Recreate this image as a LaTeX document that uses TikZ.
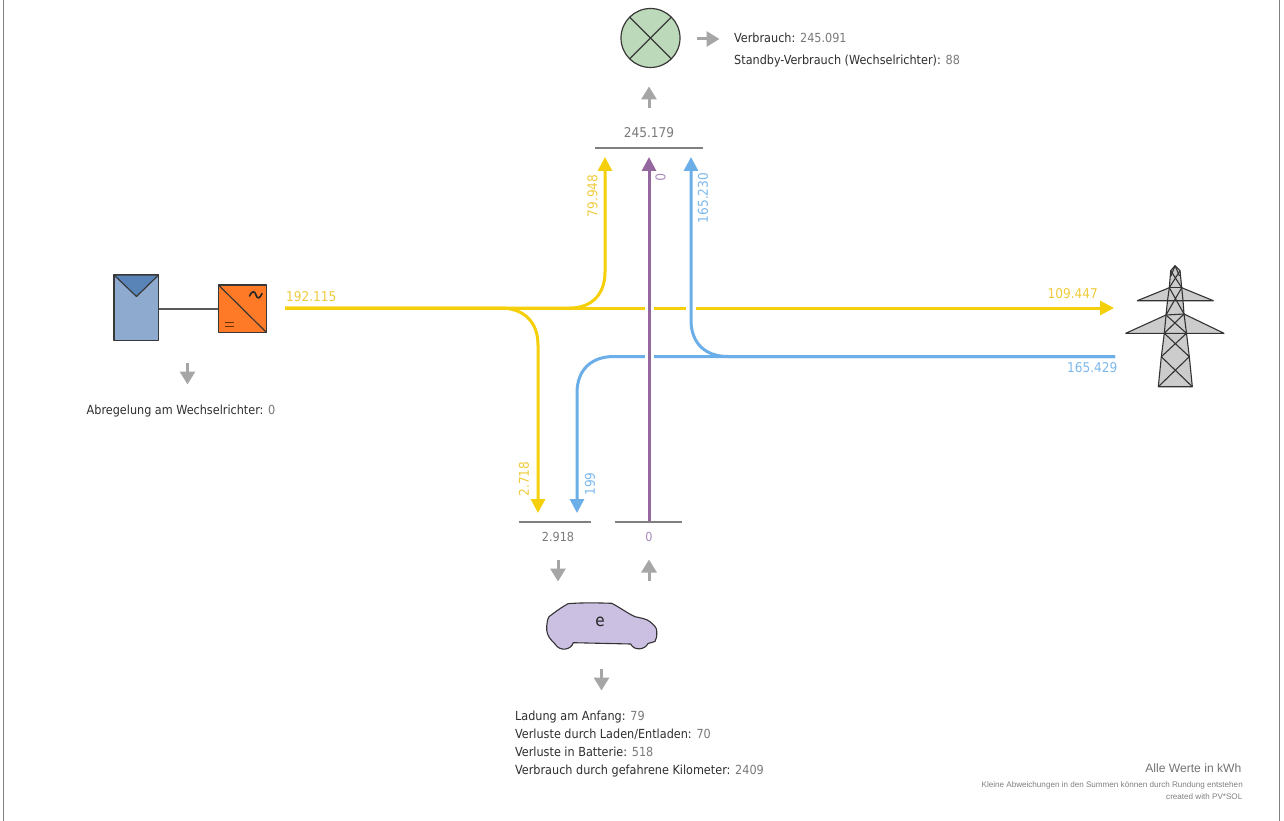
\documentclass[tikz,border=0pt]{standalone}
\usepackage{fontspec}
\setmainfont{DejaVu Sans Condensed}
\newfontfamily\arialfont{Liberation Sans}
\usetikzlibrary{arrows.meta}
\definecolor{sunY}{HTML}{F5CF0A}
\definecolor{sunT}{HTML}{F0CB3C}
\definecolor{gridB}{HTML}{6BAEE8}
\definecolor{gridT}{HTML}{7CB8EC}
\definecolor{carP}{HTML}{94689E}
\definecolor{carT}{HTML}{A98BBD}
\definecolor{flowG}{HTML}{A6A6A6}
\definecolor{txtD}{HTML}{2F2F2F}
\definecolor{txtG}{HTML}{7A7A7A}
\tikzset{
  x=1pt,y=-1pt,
  yflow/.style={draw=sunY,line width=3pt},
  bflow/.style={draw=gridB,line width=3pt},
  pflow/.style={draw=carP,line width=3pt},
  tipa/.style={-{Triangle[length=14pt,width=14pt]}},
  grayarrow/.style={draw=flowG,line width=3pt,-{Triangle[length=13pt,width=15pt]},shorten >=-0.5pt},
  sumbar/.style={draw=gray,line width=1.4pt},
  lab/.style={font=\fontsize{13.5}{16}\selectfont,inner sep=0pt},
  info/.style={font=\fontsize{12.5}{19.5}\selectfont,inner sep=0pt,anchor=base west,text=txtD},
  outl/.style={draw=black!78,line width=1.2pt,line join=round},
}
\newcommand{\gv}[1]{\textcolor{txtG}{#1}}
\begin{document}
\begin{tikzpicture}
\useasboundingbox (0,0) rectangle (1284,821);
\fill[white] (0,0) rectangle (1284,821);
% page border
\coordinate (bl1) at (3.5,0); \coordinate (bl2) at (3.5,821);
\coordinate (br1) at (1279.5,0); \coordinate (br2) at (1279.5,821);
\draw[gray,line width=1pt] (bl1)--(bl2) (br1)--(br2);

% anchors
\coordinate (ysrc) at (285,308);
\coordinate (yend) at (1114,308);
\coordinate (ytop) at (605,157);
\coordinate (ybot) at (538,513);
\coordinate (bsrc) at (1115,356.5);
\coordinate (btop) at (691,157);
\coordinate (bbot) at (577,513);
\coordinate (psrc) at (649,522);
\coordinate (ptop) at (649,157);

% yellow flows
\draw[yflow,tipa] (ysrc)--(yend);
\draw[yflow,tipa] (ysrc)-- (570,308) .. controls (592,308) and (605,294) .. (605,272) -- (ytop);
\draw[yflow,tipa] (ysrc)-- (500,308) .. controls (524,308) and (538,322) .. (538,345) -- (ybot);
% blue flows
\draw[bflow,tipa] (bsrc)-- (614,356.5) .. controls (591,356.5) and (577,370) .. (577,393) -- (bbot);
\draw[draw=white,line width=5pt] (686,308)--(696,308);
\draw[bflow,tipa] (bsrc)-- (728,356.5) .. controls (705,356.5) and (691,343) .. (691,320) -- (btop);
% purple flow
\draw[draw=white,line width=5pt] (644.5,308)--(653.5,308) (644.5,356.5)--(653.5,356.5);
\draw[pflow,tipa] (psrc)--(ptop);

% sum bars
\draw[sumbar] (595,148)--(703,148);
\draw[sumbar] (519,522)--(591,522);
\draw[sumbar] (615,522)--(682,522);
\node[lab,text=txtG] (sumT) at (649,133) {245.179};
\node[lab,text=txtG,font=\fontsize{12.5}{15}\selectfont] (sumC) at (558,536.5) {2.918};
\node[lab,text=carT,font=\fontsize{12.5}{15}\selectfont] (sumP) at (649,536.5) {0};

% flow labels
\node[lab,text=sunT,anchor=west] (l1) at (286,297) {192.115};
\node[lab,text=sunT,anchor=east] (l2) at (1098,294) {109.447};
\node[lab,text=gridT,anchor=east] (l3) at (1117.5,368) {165.429};
\node[lab,text=sunT,rotate=90] (l4) at (592.5,196) {79.948};
\node[lab,text=carT,rotate=-90] (l5) at (660.5,177) {0};
\node[lab,text=gridT,rotate=90] (l6) at (703,198) {165.230};
\node[lab,text=sunT,rotate=90] (l7) at (524,479) {2.718};
\node[lab,text=gridT,rotate=90] (l8) at (590,484) {199};

% lamp
\coordinate (lampC) at (650.5,38);
\draw[outl,fill={rgb,255:red,188;green,217;blue,185}] (lampC) circle (29.5);
\draw[outl] (lampC)++(-20.9,-20.9) -- ++(41.8,41.8);
\draw[outl] (lampC)++(20.9,-20.9) -- ++(-41.8,41.8);

% PV panel
\draw[outl,fill={rgb,255:red,142;green,170;blue,207}] (114,275) rectangle (158.5,340.5);
\draw[outl,fill={rgb,255:red,88;green,132;blue,184}] (114,275) -- (136.5,296.5) -- (158.5,275) -- cycle;
% inverter
\coordinate (panelE) at (158.5,309);
\coordinate (invW) at (218.5,309);
\draw[draw=black!65,line width=1.4pt] (panelE)--(invW);
\draw[outl,fill={rgb,255:red,255;green,122;blue,38}] (218.5,285) rectangle (266.5,332.5);
\draw[outl] (218.5,285)--(266.5,332.5);
\draw[line width=1.6pt,draw=black!85,line cap=round] (249.5,296) .. controls (252,290) and (255,291) .. (256,295) .. controls (257,299) and (260,299) .. (262,293.5);
\draw[line width=1.2pt,draw=black!60!orange] (225,322.7)--(234,322.7) (225,326.3)--(234,326.3);

% tower
\begin{scope}[draw=black!80,line width=1.1pt,line join=round]
\fill[black!20] (1175,265.7)--(1180,270.7)--(1181.7,287.7)--(1213.3,300.7)--(1183,300.7)--(1184,314)--(1224,333.3)--(1186.5,333.3)--(1192.3,386.7)--(1158.3,386.7)--(1164.3,333.3)--(1125.7,333.3)--(1166,315)--(1167.5,300.7)--(1137.3,300.7)--(1169.3,287.7)--(1170.7,270.7)--cycle;
\draw (1175,265.7)--(1180,270.7)--(1181.7,287.7)--(1183,300.7)--(1184,314)--(1186.5,333.3)--(1189.3,356.7)--(1192.3,386.7)--(1158.3,386.7)--(1161.3,356.7)--(1164.3,333.3)--(1166,315)--(1167.5,300.7)--(1169.3,287.7)--(1170.7,270.7)--cycle;
\draw (1169.3,287.7)--(1137.3,300.7)--(1213.3,300.7)--(1181.7,287.7);
\draw (1166,315)--(1125.7,333.3)--(1224,333.3)--(1184,314);
\draw (1166,315)--(1184,314);
\draw (1169.3,287.7)--(1181.7,287.7);
\draw (1170.7,270.7)--(1181.7,287.7) (1180,270.7)--(1169.3,287.7);
\draw (1175,265.7)--(1171,276) (1175,265.7)--(1179.5,276);
\draw (1169.3,287.7)--(1184,314) (1181.7,287.7)--(1166,315);
\draw (1166,315)--(1186.5,333.3) (1184,314)--(1164.3,333.3);
\draw (1164.3,333.3)--(1189.3,356.7) (1186.5,333.3)--(1161.3,356.7);
\draw (1161.3,356.7)--(1192.3,386.7) (1189.3,356.7)--(1158.3,386.7);
\end{scope}

% car
\draw[fill={rgb,255:red,203;green,191;blue,226},draw=black!80,line width=1.1pt,line join=round]
 (546.7,630) .. controls (546.5,624) and (547.5,619) .. (549,616.7)
 .. controls (555,612) and (562,607) .. (568,603.7)
 .. controls (582,602.5) and (598,602.8) .. (611.7,603.3)
 .. controls (620,607.5) and (627,613) .. (635,616.7)
 .. controls (641,618) and (647,619) .. (650,621.7)
 .. controls (654,625) and (657,628) .. (656.7,631)
 .. controls (657,636) and (656.5,639) .. (655,641.5)
 -- (648,643.5)
 .. controls (645,650) and (634,651) .. (630.7,644)
 -- (573.3,642.7)
 .. controls (571,650) and (560,652) .. (555,644)
 .. controls (551,640) and (547,636) .. (546.7,630) -- cycle;
\node[lab,text=black!85,font=\fontsize{17}{18}\selectfont] (carE) at (600,622) {e};

% gray arrows
\coordinate (a1s) at (187.5,363); \coordinate (a1e) at (187.5,384);
\coordinate (a2s) at (649,108); \coordinate (a2e) at (649,87);
\coordinate (a3s) at (697,39); \coordinate (a3e) at (719,39);
\coordinate (a4s) at (558,560); \coordinate (a4e) at (558,581);
\coordinate (a5s) at (649,581); \coordinate (a5e) at (649,560);
\coordinate (a6s) at (601.5,669); \coordinate (a6e) at (601.5,690);
\foreach \s/\e in {a1s/a1e,a2s/a2e,a3s/a3e,a4s/a4e,a5s/a5e,a6s/a6e}
  \draw[grayarrow] (\s)--(\e);

% info blocks
\node[info] (iV) at (734,43) {Verbrauch: \gv{245.091}};
\node[info] (iS) at (734,65) {Standby-Verbrauch (Wechselrichter): \gv{88}};
\node[info] (iA) at (86.5,414) {Abregelung am Wechselrichter: \gv{0}};
\node[info] (iL1) at (515,720) {Ladung am Anfang: \gv{79}};
\node[info] (iL2) at (515,738) {Verluste durch Laden/Entladen: \gv{70}};
\node[info] (iL3) at (515,756) {Verluste in Batterie: \gv{518}};
\node[info] (iL4) at (515,774.5) {Verbrauch durch gefahrene Kilometer: \gv{2409}};

% footer
\node[inner sep=0pt,anchor=east,text=black!55,font=\arialfont\fontsize{12.1}{14}\selectfont] (f1) at (1241.5,768) {Alle Werte in kWh};
\node[inner sep=0pt,anchor=east,text=black!50,font=\arialfont\fontsize{8.1}{10}\selectfont] (f2) at (1243,785.5) {Kleine Abweichungen in den Summen können durch Rundung entstehen};
\node[inner sep=0pt,anchor=east,text=black!50,font=\arialfont\fontsize{8.1}{10}\selectfont] (f3) at (1242.5,796.5) {created with PV*SOL};
\end{tikzpicture}
\end{document}
